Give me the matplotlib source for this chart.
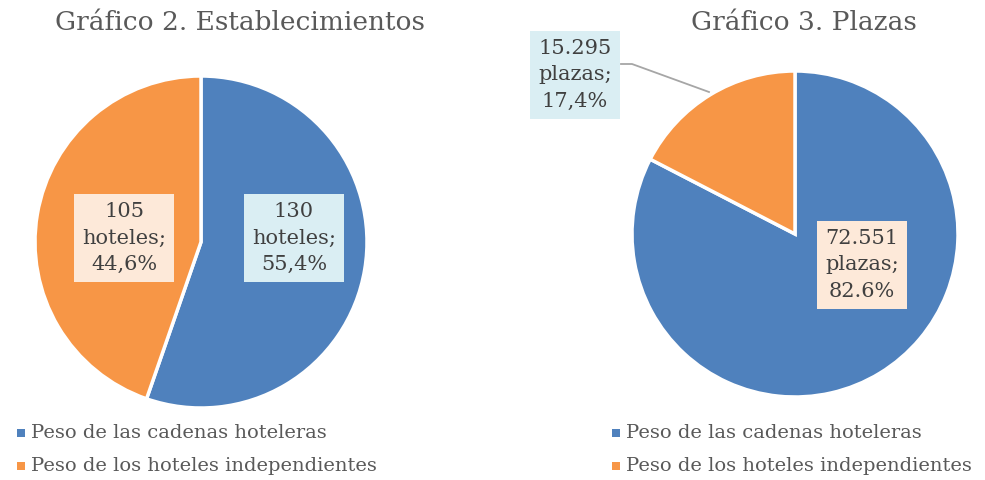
import matplotlib.pyplot as plt

plt.rcParams['font.family'] = ['DejaVu Serif']

categories = ["Peso de las cadenas hoteleras", "Peso de los hoteles independientes"]
establecimientos = [130, 105]
plazas = [72551, 15295]
labels_est = ["130\nhoteles;\n55,4%", "105\nhoteles;\n44,6%"]
labels_pla = ["72.551\nplazas;\n82.6%", "15.295\nplazas;\n17,4%"]
titles = ["Gráfico 2. Establecimientos", "Gráfico 3. Plazas"]

colors = ["#4F81BD", "#F79646"]
box_colors = ["#DAEEF3", "#FDE9D9"]
grey = "#595959"
dark = "#404040"

W, H = 985, 480
fig = plt.figure(figsize=(W / 100, H / 100), dpi=100)
ax = fig.add_axes([0, 0, 1, 1])


def Y(y):
    # pixel row from the top -> data y
    return H - y


def draw_pie(values, center, radius):
    ax.pie(values, colors=colors, startangle=90, counterclock=False,
           center=center, radius=radius,
           wedgeprops=dict(edgecolor="white", linewidth=2.5))


draw_pie(establecimientos, (201, Y(242)), 166)
draw_pie(plazas, (795, Y(234)), 163)

ax.set_xlim(0, W)
ax.set_ylim(0, H)
ax.set_aspect("auto")
ax.axis("off")

# titles
ax.text(240, Y(22), titles[0], ha="center", va="center", fontsize=19, color=grey)
ax.text(804, Y(22), titles[1], ha="center", va="center", fontsize=19, color=grey)

# data labels
lab_kw = dict(ha="center", va="center", fontsize=15, color=dark, linespacing=1.5)
box = "square,pad=0.4"
ax.text(294, Y(238), labels_est[0], bbox=dict(boxstyle=box, fc=box_colors[0], ec="none"), **lab_kw)
ax.text(124, Y(238), labels_est[1], bbox=dict(boxstyle=box, fc=box_colors[1], ec="none"), **lab_kw)
ax.text(862, Y(265), labels_pla[0], bbox=dict(boxstyle=box, fc=box_colors[1], ec="none"), **lab_kw)
ax.text(575, Y(75), labels_pla[1], bbox=dict(boxstyle=box, fc=box_colors[0], ec="none"), **lab_kw)

# leader line
ax.plot([621, 632, 709], [Y(64), Y(64), Y(92)], color="#A6A6A6", lw=1.3)

# legends
for x0 in (18, 613):
    for i, (cat, col) in enumerate(zip(categories, colors)):
        yy = Y(433 + 33 * i)
        ax.scatter([x0 + 3], [yy], marker="s", s=40, color=col, edgecolor="none")
        ax.text(x0 + 13, yy, cat, ha="left", va="center", fontsize=14, color=grey)

fig.savefig("out.png", dpi=100)
